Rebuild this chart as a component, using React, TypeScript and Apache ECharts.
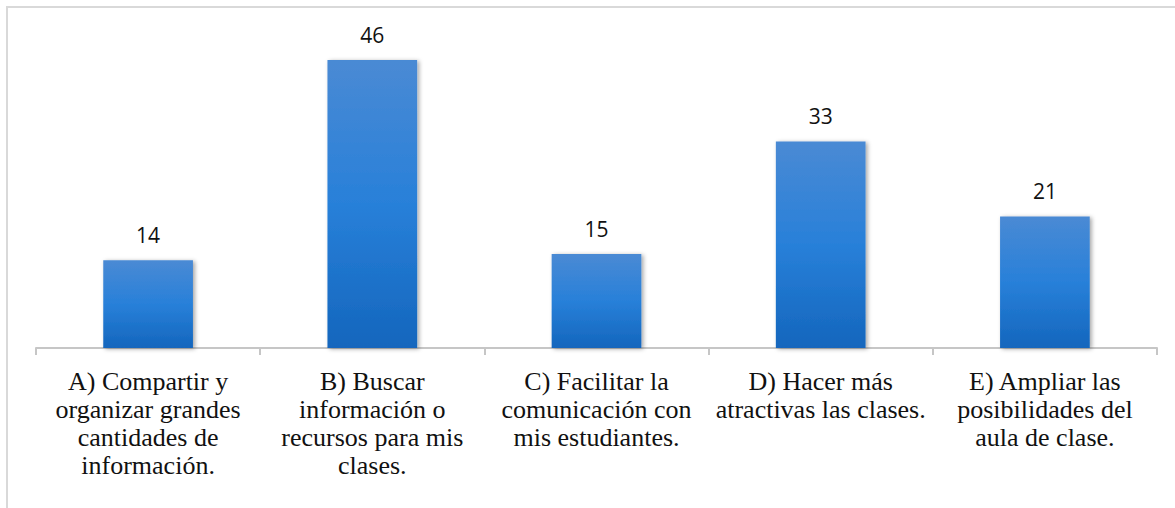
import React, { useEffect, useRef } from "react";
import * as echarts from "echarts";

const categories = [
  "A) Compartir y\norganizar grandes\ncantidades de\ninformación.",
  "B) Buscar\ninformación o\nrecursos para mis\nclases.",
  "C) Facilitar la\ncomunicación con\nmis estudiantes.",
  "D) Hacer más\natractivas las clases.",
  "E) Ampliar las\nposibilidades del\naula de clase.",
];
const values = [14, 46, 15, 33, 21];
const yMin = 0;
const yMax = 50;

export default function App() {
  const ref = useRef<HTMLDivElement>(null);
  useEffect(() => {
    if (!ref.current) return;
    const chart = echarts.init(ref.current, null, { renderer: "svg" });
    chart.setOption({
      animation: false,
      backgroundColor: "#ffffff",
      grid: { left: 36, right: 18, top: 35, bottom: 160, containLabel: false },
      xAxis: {
        type: "category",
        data: categories,
        axisLine: { show: true, lineStyle: { color: "#c6c6c6", width: 2 } },
        axisTick: { show: true, length: 7, alignWithLabel: false, lineStyle: { color: "#c6c6c6", width: 2 } },
        axisLabel: {
          interval: 0,
          margin: 19,
          fontFamily: "Liberation Serif",
          fontSize: 26,
          lineHeight: 28,
          color: "#111111",
          align: "center",
        },
      },
      yAxis: {
        type: "value",
        min: yMin,
        max: yMax,
        show: false,
        splitLine: { show: false },
      },
      graphic: [
        { type: "line", shape: { x1: 6, y1: 7, x2: 1175, y2: 7 }, style: { stroke: "#d9d9d9", lineWidth: 2 } },
        { type: "line", shape: { x1: 7, y1: 6, x2: 7, y2: 508 }, style: { stroke: "#d9d9d9", lineWidth: 2 } },
      ],
      series: [
        {
          type: "bar",
          data: values,
          barWidth: "40%",
          itemStyle: {
            color: new echarts.graphic.LinearGradient(0, 0, 0, 1, [
              { offset: 0, color: "#4a8ad4" },
              { offset: 0.5, color: "#2880d9" },
              { offset: 1, color: "#1466bd" },
            ]),
            shadowColor: "rgba(0,0,0,0.35)",
            shadowBlur: 4,
            shadowOffsetX: 2,
            shadowOffsetY: 1,
          },
          label: {
            show: true,
            position: "top",
            distance: 15,
            fontFamily: "Open Sans",
            fontSize: 21,
            color: "#111111",
          },
        },
      ],
    });
    return () => chart.dispose();
  }, []);
  return (
    <div
      ref={ref}
      style={{ position: "absolute", left: 0, top: 0, width: 1175, height: 508, background: "#fff" }}
    />
  );
}
